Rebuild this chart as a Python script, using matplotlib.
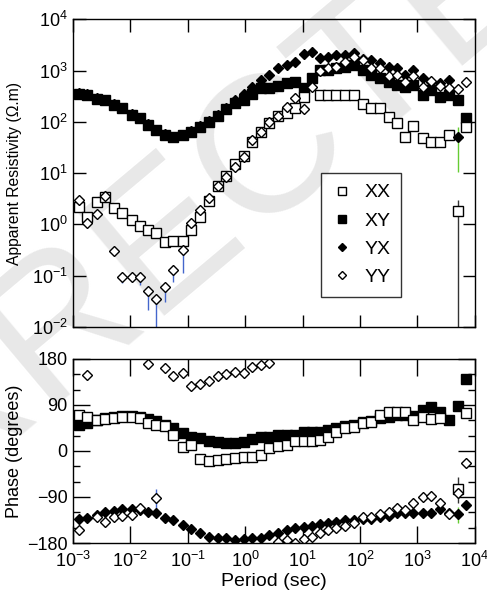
import numpy as np
import matplotlib
matplotlib.use("Agg")
import matplotlib.pyplot as plt
from matplotlib.ticker import FixedLocator, FuncFormatter, NullLocator
from matplotlib.lines import Line2D

plt.rcParams['font.family'] = ['Liberation Sans', 'DejaVu Sans']
plt.rcParams['mathtext.fontset'] = 'custom'
plt.rcParams['mathtext.rm'] = 'Liberation Sans'
plt.rcParams['mathtext.it'] = 'Liberation Sans:italic'
plt.rcParams['mathtext.bf'] = 'Liberation Sans:bold'

nan = np.nan

# ---------------- data ----------------
periods = [0.00129, 0.00178, 0.00257, 0.00363, 0.00525, 0.00724, 0.0105, 0.0145,
           0.0204, 0.0282, 0.0407, 0.0562, 0.0832, 0.115, 0.162, 0.234, 0.331,
           0.468, 0.661, 0.933, 1.32, 1.86, 2.63, 3.72, 5.25, 7.41, 10.7, 14.8,
           20.4, 28.2, 38.9, 55.0, 79.4, 112, 158, 224, 316, 437, 617, 851,
           1230, 1740, 2450, 3550, 5130, 6920]

rho_xx = [2.2, 1.41, 2.75, 3.4, 2.1, 1.7, 1.2, 0.93, 0.78, 0.67, 0.46, 0.48, 0.48,
          0.78, 1.41, 2.9, 5.5, 8.9, 15, 22, 41, 62, 93, 129, 151, 190, 309, nan,
          331, 331, 331, 331, 339, 219, 190, 182, 126, 95, 51, 83, 48, 41, 41, 56,
          1.8, 78]
rho_xy = [355, 331, 282, 263, 209, 182, 135, 120, 87, 69, 55, 51, 55, 63, 79, 100,
          132, 174, 229, 263, 355, 447, 447, 501, 562, 603, 447, 708, 1023, 1023,
          1096, 1175, 1259, 1023, 813, 708, 603, 513, 479, 513, 331, 417, 309, 331,
          263, 117]
rho_yx = [372, 347, 288, 269, 219, 186, 141, 120, 91, 69, 58, 51, 56, 65, 83, 105,
          138, 186, 263, 355, 479, 646, 813, 1096, 1259, 1479, 2138, 2291, 1778,
          1862, 1995, 1995, 2188, 1698, 1585, 1380, 1175, 1096, 813, 1023, 708, 603,
          575, 646, 51, nan]
rho_yy = [2.95, 1.05, 1.6, 3.5, 0.3, 0.095, 0.095, 0.095, 0.05, 0.035, 0.059, 0.13,
          0.32, 1.05, 1.9, 3.2, 5.6, 8.5, 12.9, 21, 44, 63, 100, 129, 195, 295, 178,
          479, 1000, 1120, 1175, 1480, 1860, 1585, 1100, 1100, 776, 813, 603, 776,
          479, 631, 490, 447, 427, 603]

phase_xx = [70.4, 66, 61, 62, 64, 66, 66, 64, 54, 51, 48, 31, 7, 12, -15.6, -19,
            -17.6, -16, -14, -11, -11, -8, 5, 10, 12, 19, 20, 20, 21, 27, 38, 44,
            47, 54, 57, 70, 77, 77, 77, 60.7, 67, 62, 64, nan, -75, 74]
phase_xy = [51, 54, 60.7, 64, 66, 68.5, 68.5, 67, 62, 59, 51, 44, 34.5, 28, 24.8,
            20, 18, 16, 16, 18, 22.8, 28, 27, 31, 31, 31, 38, 38, 38, 41, 44, 49,
            51, 57, 59, 64, 67, 70, 70, 68.5, 80, 85.5, 77, 61, 88, 140]
phase_yx = [-133.7, -131.7, -125, -118.7, -116.8, -114, -114, -116, -118.7, -122,
            -131.7, -135, -144.8, -153.2, -161, -167.7, -170.8, -170.8, -174,
            -172.8, -170.8, -170.8, -164.4, -161, -154.6, -151, -148, -146.7,
            -142.8, -141.5, -138.3, -135, -135, -133.7, -133.7, -130, -127, -122,
            -122, -120.8, -122, -120.8, -114, -120.8, -123.3, -105.6]
phase_yy = [-154.6, 148.7, -129.7, -138.3, -129.7, -127, -125.2, -112, 170, -92.5,
            162, 147, 152, 127, 132, 137.5, 147, 150.6, 155, 153, 163.7, 168, 172.8,
            -179, -174, -179.5, -172.8, -167.7, -161, -154.6, -151.3, -146.7,
            -140.3, -129.7, -128.5, -123.3, -118.7, -112, -115.4, -102.3, -89.4,
            -88, -102.3, -123.3, -81.6, -22.9]

# error bars: (index into periods, low, high)
err_rho_yy = [(5, 0.071, 0.095), (7, 0.066, 0.095), (8, 0.021, 0.05),
              (9, 0.003, 0.035), (10, 0.031, 0.059), (11, 0.076, 0.13),
              (12, 0.11, 0.46)]
err_rho_xx = [(44, 0.001, 2.95)]
err_rho_yx = [(44, 10.7, 79)]
err_phase_yy = [(9, -112, -75), (12, 145, 160)]
err_phase_xx = [(44, -102, -50)]
err_phase_yx = [(44, -141, -109)]

labels = ['XX', 'XY', 'YX', 'YY']
x_ticks = [1e-3, 1e-2, 1e-1, 1e0, 1e1, 1e2, 1e3, 1e4]
rho_ticks = [1e-2, 1e-1, 1e0, 1e1, 1e2, 1e3, 1e4]
phase_ticks = [-180, -90, 0, 90, 180]
phase_minor = [-150, -120, -60, -30, 30, 60, 120, 150]

# ---------------- figure ----------------
fig = plt.figure(figsize=(4.87, 6.02), dpi=100)

# faint watermark behind everything
fig.text(0.31, 0.58, 'CORRECTED', fontsize=140, fontweight='normal',
         color='#e8e8e8', rotation=40, ha='center', va='center',
         rotation_mode='anchor', zorder=-10)

ax1 = fig.add_axes([0.150, 0.457, 0.825, 0.511])
ax2 = fig.add_axes([0.150, 0.098, 0.825, 0.3057])
for ax in (ax1, ax2):
    ax.set_facecolor('none')
    ax.set_zorder(1)
    ax.set_xscale('log')
    ax.set_xlim(1e-3, 1e4)
    for s in ax.spines.values():
        s.set_linewidth(1.0)

T = np.array(periods)

styles = {
    'XX': dict(marker='s', ms=6.8, mfc='white', mec='black', mew=1.0),
    'XY': dict(marker='s', ms=6.8, mfc='black', mec='black', mew=1.0),
    'YX': dict(marker='D', ms=5.0, mfc='black', mec='black', mew=1.0),
    'YY': dict(marker='D', ms=5.0, mfc='white', mec='black', mew=1.0),
}
err_col = {'XX': '#333333', 'YX': '#66cc33', 'YY': '#4466cc'}

# --- top panel ---
ax1.set_yscale('log')
ax1.set_ylim(1e-2, 1e4)
for lab, ebs in (('XX', err_rho_xx), ('YX', err_rho_yx), ('YY', err_rho_yy)):
    for i, lo, hi in ebs:
        ax1.vlines(T[i], lo, hi, color=err_col[lab], lw=1.0, zorder=1.5)
for lab, vals in (('XY', rho_xy), ('XX', rho_xx), ('YX', rho_yx), ('YY', rho_yy)):
    ax1.plot(T, np.array(vals, float), ls='none', zorder=2, clip_on=True, **styles[lab])

# --- bottom panel ---
ax2.set_ylim(-180, 180)
for lab, ebs in (('XX', err_phase_xx), ('YX', err_phase_yx), ('YY', err_phase_yy)):
    for i, lo, hi in ebs:
        ax2.vlines(T[i], lo, hi, color=err_col[lab], lw=1.0, zorder=1.5)
for lab, vals in (('XY', phase_xy), ('XX', phase_xx), ('YX', phase_yx), ('YY', phase_yy)):
    ax2.plot(T, np.array(vals, float), ls='none', zorder=2, clip_on=True, **styles[lab])


def pow10(v, pos):
    e = int(round(np.log10(v)))
    return r'$\mathregular{10^{%d}}$' % e


for ax in (ax1, ax2):
    ax.xaxis.set_major_locator(FixedLocator(x_ticks))
    ax.xaxis.set_minor_locator(NullLocator())
    ax.xaxis.set_major_formatter(FuncFormatter(pow10))

ax1.yaxis.set_major_locator(FixedLocator(rho_ticks))
ax1.yaxis.set_minor_locator(NullLocator())
ax1.yaxis.set_major_formatter(FuncFormatter(pow10))
ax1.tick_params(axis='both', which='major', direction='in', length=9, width=1.0,
                top=True, right=True, labelsize=13, pad=4)
ax1.tick_params(axis='x', labelbottom=False)

ax2.yaxis.set_major_locator(FixedLocator(phase_ticks))
ax2.yaxis.set_minor_locator(FixedLocator(phase_minor))
ax2.xaxis.set_minor_locator(NullLocator())
ax2.tick_params(axis='both', which='major', direction='in', length=12, width=1.0,
                top=True, right=True, labelsize=13, pad=4)
ax2.tick_params(axis='y', which='minor', direction='in', length=5, width=1.0,
                left=True, right=True)
ax2.tick_params(axis='x', pad=6)

ax1.set_ylabel('Apparent Resistivity (\u03a9.m)', fontsize=11.3)
ax2.set_ylabel('Phase (degrees)', fontsize=13)
ax2.set_xlabel('Period (sec)', fontsize=14, labelpad=1)
ax1.yaxis.set_label_coords(-0.127, 0.5)
ax2.yaxis.set_label_coords(-0.125, 0.5)

handles = [Line2D([], [], ls='none', **dict(styles[l], ms=styles[l]['ms'] * 0.8))
           for l in labels]
leg = ax1.legend(handles, labels, loc='upper left', bbox_to_anchor=(0.617, 0.50),
                 fontsize=14, frameon=True, fancybox=False, borderpad=0.55,
                 labelspacing=0.55, handlelength=1.1, handletextpad=0.6,
                 borderaxespad=0.0)
leg.get_frame().set_edgecolor('black')
leg.get_frame().set_linewidth(1.0)

fig.savefig('out.png', dpi=100)
